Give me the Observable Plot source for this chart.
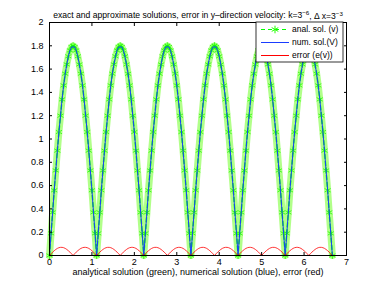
<!DOCTYPE html>
<html><head><meta charset="utf-8">
<script src="https://cdn.jsdelivr.net/npm/d3@7"></script>
<script src="https://cdn.jsdelivr.net/npm/@observablehq/plot@0.6"></script>
<style>body{margin:0;background:#fff;} #chart{width:382px;height:287px;}</style>
</head><body><div id="chart"></div>
<script>
const dx = 1 / 27; // grid spacing Δx = 3^-3
const analSol = [
0,0.19,0.37,0.56,0.73,0.90,1.06,1.20,1.34,1.46,1.56,1.64,1.71,1.76,1.79,1.80,1.79,1.76,1.71,1.64,1.56,1.46,1.34,1.20,1.06,0.90,0.73,0.56,0.37,0.19,
0,0.19,0.37,0.56,0.73,0.90,1.06,1.20,1.34,1.46,1.56,1.64,1.71,1.76,1.79,1.80,1.79,1.76,1.71,1.64,1.56,1.46,1.34,1.20,1.06,0.90,0.73,0.56,0.37,0.19,
0,0.19,0.37,0.56,0.73,0.90,1.06,1.20,1.34,1.46,1.56,1.64,1.71,1.76,1.79,1.80,1.79,1.76,1.71,1.64,1.56,1.46,1.34,1.20,1.06,0.90,0.73,0.56,0.37,0.19,
0,0.19,0.37,0.56,0.73,0.90,1.06,1.20,1.34,1.46,1.56,1.64,1.71,1.76,1.79,1.80,1.79,1.76,1.71,1.64,1.56,1.46,1.34,1.20,1.06,0.90,0.73,0.56,0.37,0.19,
0,0.19,0.37,0.56,0.73,0.90,1.06,1.20,1.34,1.46,1.56,1.64,1.71,1.76,1.79,1.80,1.79,1.76,1.71,1.64,1.56,1.46,1.34,1.20,1.06,0.90,0.73,0.56,0.37,0.19,
0,0.19,0.37,0.56,0.73,0.90,1.06,1.20,1.34,1.46,1.56,1.64,1.71,1.76,1.79,1.80,1.79,1.76,1.71,1.64,1.56,1.46,1.34,1.20,1.06,0.90,0.73,0.56,0.37,0.19,
0];
const numSol = [
0,0.19,0.37,0.56,0.73,0.90,1.06,1.20,1.34,1.46,1.56,1.64,1.71,1.76,1.79,1.79,1.79,1.76,1.71,1.64,1.56,1.46,1.34,1.20,1.06,0.90,0.73,0.56,0.37,0.19,
0,0.19,0.37,0.56,0.73,0.90,1.06,1.20,1.34,1.46,1.56,1.64,1.71,1.76,1.79,1.79,1.79,1.76,1.71,1.64,1.56,1.46,1.34,1.20,1.06,0.90,0.73,0.56,0.37,0.19,
0,0.19,0.37,0.56,0.73,0.90,1.06,1.20,1.34,1.46,1.56,1.64,1.71,1.76,1.79,1.79,1.79,1.76,1.71,1.64,1.56,1.46,1.34,1.20,1.06,0.90,0.73,0.56,0.37,0.19,
0,0.19,0.37,0.56,0.73,0.90,1.06,1.20,1.34,1.46,1.56,1.64,1.71,1.76,1.79,1.79,1.79,1.76,1.71,1.64,1.56,1.46,1.34,1.20,1.06,0.90,0.73,0.56,0.37,0.19,
0,0.19,0.37,0.56,0.73,0.90,1.06,1.20,1.34,1.46,1.56,1.64,1.71,1.76,1.79,1.79,1.79,1.76,1.71,1.64,1.56,1.46,1.34,1.20,1.06,0.90,0.73,0.56,0.37,0.19,
0,0.19,0.37,0.56,0.73,0.90,1.06,1.20,1.34,1.46,1.56,1.64,1.71,1.76,1.79,1.79,1.79,1.76,1.71,1.64,1.56,1.46,1.34,1.20,1.06,0.90,0.73,0.56,0.37,0.19,
0];
const errSol = [
0,0.015,0.029,0.041,0.052,0.061,0.067,0.070,0.070,0.067,0.061,0.052,0.041,0.029,0.015,
0,0.015,0.029,0.041,0.052,0.061,0.067,0.070,0.070,0.067,0.061,0.052,0.041,0.029,0.015,
0,0.015,0.029,0.041,0.052,0.061,0.067,0.070,0.070,0.067,0.061,0.052,0.041,0.029,0.015,
0,0.015,0.029,0.041,0.052,0.061,0.067,0.070,0.070,0.067,0.061,0.052,0.041,0.029,0.015,
0,0.015,0.029,0.041,0.052,0.061,0.067,0.070,0.070,0.067,0.061,0.052,0.041,0.029,0.015,
0,0.015,0.029,0.041,0.052,0.061,0.067,0.070,0.070,0.067,0.061,0.052,0.041,0.029,0.015,
0,0.015,0.029,0.041,0.052,0.061,0.067,0.070,0.070,0.067,0.061,0.052,0.041,0.029,0.015,
0,0.015,0.029,0.041,0.052,0.061,0.067,0.070,0.070,0.067,0.061,0.052,0.041,0.029,0.015,
0,0.015,0.029,0.041,0.052,0.061,0.067,0.070,0.070,0.067,0.061,0.052,0.041,0.029,0.015,
0,0.015,0.029,0.041,0.052,0.061,0.067,0.070,0.070,0.067,0.061,0.052,0.041,0.029,0.015,
0,0.015,0.029,0.041,0.052,0.061,0.067,0.070,0.070,0.067,0.061,0.052,0.041,0.029,0.015,
0,0.015,0.029,0.041,0.052,0.061,0.067,0.070,0.070,0.067,0.061,0.052,0.041,0.029,0.015,
0];
const xTicks = [0, 1, 2, 3, 4, 5, 6, 7];
const xTickLabels = ["0", "1", "2", "3", "4", "5", "6", "7"];
const yTicks = [0, 0.2, 0.4, 0.6, 0.8, 1, 1.2, 1.4, 1.6, 1.8, 2];
const yTickLabels = ["0", "0.2", "0.4", "0.6", "0.8", "1", "1.2", "1.4", "1.6", "1.8", "2"];
const legendLabels = ["anal. sol. (v)", "num. sol.(V)", "error (e(v))"];
const titleMain = "exact and approximate solutions, error in y\u2013direction velocity: k=3";
const titleExp1 = "\u22126";
const titleMid = ", \u0394 x=3";
const titleExp2 = "\u22123";
const xLabel = "analytical solution (green), numerical solution (blue), error (red)";

const rows = analSol.map((v, i) => ({x: i * dx, anal: v, num: numSol[i], err: errSol[i]}));
const font = "'Liberation Sans', Arial, Helvetica, sans-serif";

const plot = Plot.plot({
  width: 382, height: 287,
  marginLeft: 49, marginRight: 36, marginTop: 22, marginBottom: 32,
  style: {fontFamily: font, fontSize: "9px", background: "white", color: "black"},
  x: {domain: [0, 7]},
  y: {domain: [0, 2]},
  marks: [
    Plot.line(rows, {x: "x", y: "anal", stroke: "#7dff3a", strokeWidth: 7, strokeOpacity: 0.6}),
    Plot.dot(rows, {x: "x", y: "anal", symbol: "asterisk", r: 3.3, stroke: "#22ff00", strokeWidth: 0.8}),
    Plot.line(rows, {x: "x", y: "anal", stroke: "#00ff00", strokeDasharray: "4,3"}),
    Plot.line(rows, {x: "x", y: "num", stroke: "#1a3cff", strokeWidth: 1}),
    Plot.line(rows, {x: "x", y: "err", stroke: "#ff0000", strokeWidth: 0.8}),
    Plot.frame({stroke: "black"}),
    Plot.axisX({ticks: xTicks, tickFormat: (d, i) => xTickLabels[i], tickSize: -3, tickPadding: 6, anchor: "bottom", label: null}),
    Plot.axisX({ticks: xTicks, tickSize: -3, tickFormat: () => "", anchor: "top", label: null}),
    Plot.axisY({ticks: yTicks, tickFormat: (d, i) => yTickLabels[i], tickSize: -3, tickPadding: 9, anchor: "left", label: null}),
    Plot.axisY({ticks: yTicks, tickSize: -3, tickFormat: () => "", anchor: "right", label: null}),
    Plot.text([titleMain], {text: d => d, frameAnchor: "top", dy: -11, fontSize: 8.6, className: "ttl"}),
    Plot.text([xLabel], {text: d => d, frameAnchor: "bottom", dy: 19, fontSize: 9})
  ]
});
document.getElementById("chart").appendChild(plot);

const svg = d3.select(plot);
// superscripts in the title
const t = svg.select("g.ttl text");
if (!t.empty()) {
  t.text(null);
  t.append("tspan").text(titleMain);
  t.append("tspan").attr("dy", "-0.45em").attr("font-size", "6.2px").text(titleExp1);
  t.append("tspan").attr("dy", "0.45em").text(titleMid);
  t.append("tspan").attr("dy", "-0.45em").attr("font-size", "6.2px").text(titleExp2);
}

// legend
const lg = svg.append("g").attr("font-family", font).attr("font-size", 8.5).attr("text-anchor", "start");
lg.append("rect").attr("x", 256).attr("y", 22).attr("width", 87).attr("height", 40)
  .attr("fill", "white").attr("stroke", "black").attr("stroke-width", 0.8);
const ys = [29.5, 42.5, 55.5];
lg.append("line").attr("x1", 261).attr("x2", 289).attr("y1", ys[0]).attr("y2", ys[0])
  .attr("stroke", "#00ff00").attr("stroke-dasharray", "4,3");
lg.append("path").attr("d", d3.symbol(d3.symbolAsterisk, 40)()).attr("transform", `translate(275,${ys[0]})`)
  .attr("stroke", "#22ff00").attr("fill", "none");
lg.append("line").attr("x1", 261).attr("x2", 289).attr("y1", ys[1]).attr("y2", ys[1]).attr("stroke", "#1a3cff");
lg.append("line").attr("x1", 261).attr("x2", 289).attr("y1", ys[2]).attr("y2", ys[2]).attr("stroke", "#ff0000");
legendLabels.forEach((s, i) => {
  lg.append("text").attr("x", 292).attr("y", ys[i]).attr("dy", "0.35em").attr("fill", "black").text(s);
});
</script>
</body></html>
